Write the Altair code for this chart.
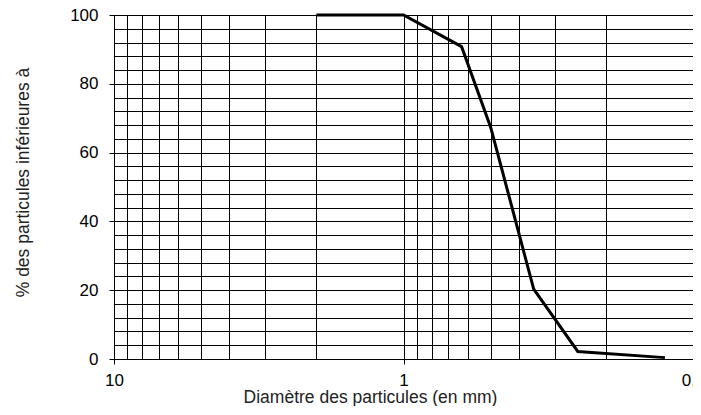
import altair as alt
import pandas as pd

# Courbe granulométrique
diametre = [2, 1, 0.63, 0.5, 0.355, 0.25, 0.125]
pourcent = [100, 100, 90.8, 67.4, 20.3, 2.2, 0.4]

# Graduations / quadrillage
x_grid = [0.1, 0.2, 0.3, 0.4, 0.5, 0.6, 0.7, 0.8, 0.9,
          1, 2, 3, 4, 5, 6, 7, 8, 9, 10]
y_grid = [0, 4, 8, 12, 16, 20, 24, 28, 32, 36, 40, 44, 48, 52, 56, 60,
          64, 68, 72, 76, 80, 84, 88, 92, 96, 100]

df = pd.DataFrame({"d": diametre, "p": pourcent})

x_major = "datum.value === 10 || datum.value === 1 || datum.value === 0.1"
y_major = "datum.value % 20 === 0"

chart = alt.Chart(df).mark_line(color="black", strokeWidth=3).encode(
    x=alt.X(
        "d:Q",
        scale=alt.Scale(type="log", domain=[0.1, 10], reverse=True, nice=False),
        axis=alt.Axis(
            values=x_grid,
            title="Diamètre des particules (en mm)",
            labelExpr="datum.value === 10 ? '10' : datum.value === 1 ? '1' : datum.value === 0.1 ? '0,1' : ''",
            tickOpacity={"condition": {"test": x_major, "value": 1}, "value": 0},
            tickSize=5,
            labelPadding=8,
            labelFlush=False,
            labelOverlap=False,
            labelBound=False,
            titleX=256,
            titleY=43,
            titleAnchor="start",
            titleAlign="center",
            titleBaseline="alphabetic",
        ),
    ),
    y=alt.Y(
        "p:Q",
        scale=alt.Scale(domain=[0, 100], nice=False),
        axis=alt.Axis(
            values=y_grid,
            title="% des particules inférieures à",
            labelExpr="datum.value % 20 === 0 ? datum.label : ''",
            tickOpacity={"condition": {"test": y_major, "value": 1}, "value": 0},
            tickSize=5,
            labelPadding=11,
            labelOverlap=False,
            titleX=-86,
            titleY=167,
            titleAngle=270,
            titleAlign="center",
            titleBaseline="alphabetic",
        ),
    ),
).properties(
    width=579,
    height=344,
    autosize=alt.AutoSizeParams(type="none"),
    padding={"left": 106, "top": 7, "right": 0, "bottom": 47},
).configure_view(
    stroke=None
).configure_axis(
    grid=True,
    gridColor="black",
    gridOpacity=1,
    gridWidth=1,
    domainColor="black",
    domainWidth=1,
    tickColor="black",
    labelFont="Liberation Sans",
    labelFontSize=17,
    labelColor="black",
    titleFont="Liberation Sans",
    titleFontSize=17.5,
    titleFontWeight="normal",
    titleColor="#222222",
)

chart.save("out.html", embed_options={"renderer": "svg", "actions": False})
